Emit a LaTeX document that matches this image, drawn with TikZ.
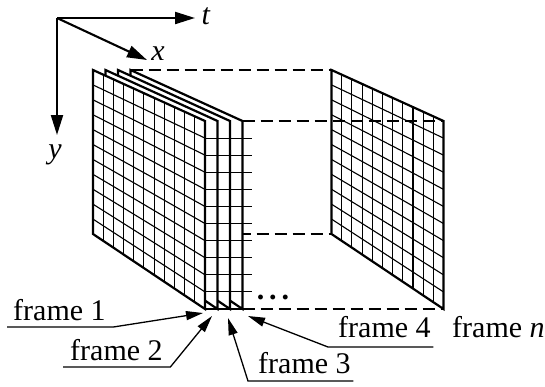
\documentclass[tikz,border=0pt]{standalone}
\usepackage{fontspec}
\setmainfont{Liberation Serif}
\usetikzlibrary{arrows.meta,calc}
\newcommand\mygridframe[1]{%
  \foreach \i in {1,...,10}{%
    \draw[gridline] ({#1+112*\i/11},{70+51*\i/11}) -- ({#1+112*\i/11},{234+75*\i/11});
  }%
  \foreach \j in {1,...,10}{%
    \draw[gridline] (#1,{70+164*\j/11}) -- ({#1+112},{121+188*\j/11});
  }%
}
\newcommand\myframecoords[2]{%
  \coordinate (#1tl) at (#2,70);
  \coordinate (#1tr) at ({#2+112},121);
  \coordinate (#1br) at ({#2+112},309);
  \coordinate (#1bl) at (#2,234);
}
\begin{document}
\begin{tikzpicture}[x=1pt,y=-1pt,
  font=\fontsize{30}{36}\selectfont,
  gridline/.style={line width=1.1pt},
  frameline/.style={line width=2.2pt, line join=miter},
  dashline/.style={line width=2.4pt, dash pattern=on 12pt off 6pt},
  axis/.style={line width=2.1pt, -{Triangle[length=20pt,width=12pt]}},
  lab/.style={line width=1.3pt, -{Triangle[length=17pt,width=9pt]}},
  labtext/.style={anchor=base west, inner sep=0pt}]
\useasboundingbox (0,0) rectangle (545,386);
% frame corner coordinates
\myframecoords{fa}{93}
\myframecoords{fb}{105.5}
\myframecoords{fc}{118}
\myframecoords{fd}{130.5}
\myframecoords{fn}{331.5}
% hidden dashed edges (drawn first)
\draw[dashline] (fdtl) -- (fntl);
\draw[dashline] (fdbl) -- (fnbl);
% back frames 4,3,2
\filldraw[frameline, fill=white] (fdtl) -- (fdtr) -- (fdbr) -- (fdbl) -- cycle;
\filldraw[frameline, fill=white] (fctl) -- (fctr) -- (fcbr) -- (fcbl) -- cycle;
\filldraw[frameline, fill=white] (fbtl) -- (fbtr) -- (fbbr) -- (fbbl) -- cycle;
% frame 1
\fill[white] (fatl) -- (fatr) -- (fabr) -- (fabl) -- cycle;
\mygridframe{93}
\draw[frameline] (fatl) -- (fatr) -- (fabr) -- (fabl) -- cycle;
% strip rows
\foreach \j in {1,...,10}{%
  \draw[gridline] (205,{121+188*\j/11}) -- (252,{121+188*\j/11});
}
\draw[frameline] (fabr) -- (fdbr);
% frame n
\fill[white] (fntl) -- (fntr) -- (fnbr) -- (fnbl) -- cycle;
\mygridframe{331.5}
\draw[frameline] (fntl) -- (fntr) -- (fnbr) -- (fnbl) -- cycle;
% visible dashed edges
\draw[dashline] (fdtr) -- (fntr);
\draw[dashline] (fdbr) -- (fnbr);
% dots
\node[anchor=base, inner sep=0pt] (dots) at (273,299) {\textbf{.}\kern5pt\textbf{.}\kern5pt\textbf{.}};
% axes
\coordinate (O) at (57,18);
\coordinate (tend) at (195,18);
\coordinate (xend) at (147,60);
\coordinate (yend) at (57,135);
\draw[axis] (O) -- (tend);
\draw[axis] (O) -- (xend);
\draw[axis] (O) -- (yend);
\node[inner sep=0pt] (tlab) at (206,16) {\textit{t}};
\node[inner sep=0pt] (xlab) at (158,54) {\textit{x}};
\node[inner sep=0pt] (ylab) at (55,155) {\textit{y}};
% labels
\node[labtext] (l1) at (13,320) {frame 1};
\node[labtext] (l2) at (70,360) {frame 2};
\node[labtext] (l3) at (258,373) {frame 3};
\node[labtext] (l4) at (338,337) {frame 4};
\node[labtext] (ln) at (452,337) {frame \textit{n}};
\coordinate (a1) at ($(fabr)+(-2,4)$);
\coordinate (a2) at ($(fbbr)+(-5.5,7)$);
\coordinate (a3) at ($(fcbr)+(-2,9)$);
\coordinate (a4) at ($(fdbr)+(5.5,7)$);
\draw[lab] ([shift={(-6,7)}]l1.base west) -- ([shift={(7.5,7)}]l1.base east) -- (a1);
\draw[lab] ([shift={(-7,7)}]l2.base west) -- ([shift={(7.5,7)}]l2.base east) -- (a2);
\draw[lab] ([shift={(2.5,8)}]l3.base east) -- ([shift={(-10,8)}]l3.base west) -- (a3);
\draw[lab] ([shift={(2.5,10)}]l4.base east) -- ([shift={(-10,10)}]l4.base west) -- (a4);
\end{tikzpicture}
\end{document}
